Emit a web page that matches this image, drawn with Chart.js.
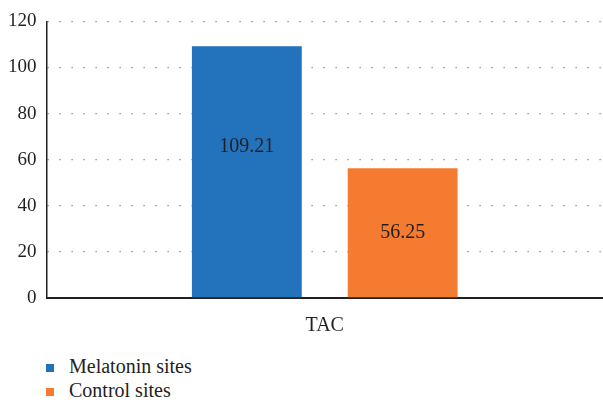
<!DOCTYPE html>
<html>
<head>
<meta charset="utf-8">
<script src="https://cdn.jsdelivr.net/npm/chart.js@4"></script>
<style>
  body { margin: 0; background: #ffffff; }
  #wrap { position: relative; width: 603px; height: 354px; }
  #legend { margin: 0; padding: 0 0 0 46px; list-style: none;
            font-family: "Liberation Serif", serif; font-size: 20px; color: #231f20; }
  #legend li { height: 24px; line-height: 24px; }
  #legend span { display: inline-block; width: 8px; height: 8px; margin-right: 15px; vertical-align: 1px; }
</style>
</head>
<body>
<div id="wrap"><canvas id="chart"></canvas></div>
<ul id="legend"></ul>
<script>
var categories = ["TAC"];
var seriesNames = ["Melatonin sites", "Control sites"];
var melatonin = [109.21];
var control = [56.25];
var yTicks = [0, 20, 40, 60, 80, 100, 120];

var textColor = "#231f20";
var fontFamily = "'Liberation Serif', serif";

// value labels inside the bars
var barLabels = {
  id: "barLabels",
  afterDatasetsDraw: function (chart) {
    var ctx = chart.ctx;
    ctx.save();
    ctx.font = "20px " + fontFamily;
    ctx.fillStyle = textColor;
    ctx.textAlign = "center";
    ctx.textBaseline = "middle";
    chart.data.datasets.forEach(function (ds, i) {
      chart.getDatasetMeta(i).data.forEach(function (bar, j) {
        var y = bar.base - (bar.base - bar.y) * ds.labelAt;
        ctx.fillText(ds.data[j].toFixed(2), bar.x, y);
      });
    });
    ctx.restore();
  }
};

var ctx = document.getElementById("chart").getContext("2d");

var data = {
  labels: categories,
  datasets: [
    {
      label: seriesNames[0],
      backgroundColor: "#2272bc",
      data: melatonin,
      labelAt: 0.6
    },
    {
      label: seriesNames[1],
      backgroundColor: "#f47b30",
      data: control,
      labelAt: 0.5
    }
  ]
};

var options = {
  responsive: true,
  maintainAspectRatio: false,
  animation: false,
  layout: { padding: { top: 10, right: 0, left: -2, bottom: 0 } },
  categoryPercentage: 0.56,
  barPercentage: 0.705,
  plugins: {
    legend: { display: false },
    tooltip: { enabled: false }
  },
  scales: {
    y: {
      min: 0,
      max: 120,
      afterBuildTicks: function (axis) {
        axis.ticks = yTicks.map(function (v) { return { value: v }; });
      },
      // in v4 border.dash sets the dash of the gridlines
      border: { display: true, color: "#231f20", width: 1.5, dash: [1.2, 10.8] },
      ticks: {
        color: textColor,
        padding: 10,
        font: { family: fontFamily, size: 19 }
      },
      grid: {
        drawTicks: false,
        color: function (c) { return c.tick.value === 0 ? "rgba(0,0,0,0)" : "#7a7a7a"; },
        lineWidth: 1.3
      }
    },
    x: {
      border: { display: true, color: "#231f20", width: 2 },
      ticks: {
        color: textColor,
        padding: 16,
        font: { family: fontFamily, size: 20 }
      },
      grid: { display: false, drawTicks: false }
    }
  }
};

var chart = new Chart(ctx, {
  type: "bar",
  data: data,
  options: options,
  plugins: [barLabels]
});

// legend below the plot, one entry per line
var legend = document.getElementById("legend");
chart.data.datasets.forEach(function (ds) {
  var li = document.createElement("li");
  var box = document.createElement("span");
  box.style.background = ds.backgroundColor;
  li.appendChild(box);
  li.appendChild(document.createTextNode(ds.label));
  legend.appendChild(li);
});
</script>
</body>
</html>
